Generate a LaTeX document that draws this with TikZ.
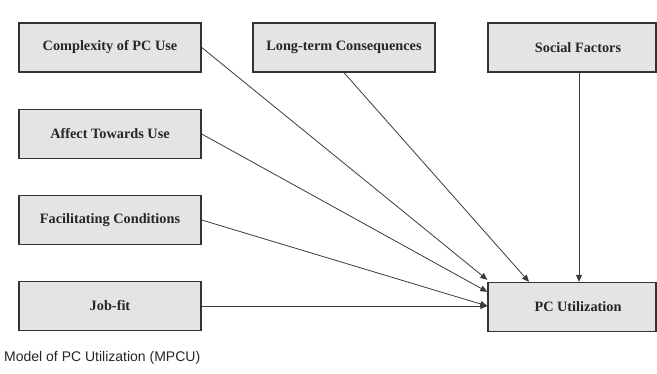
\documentclass[tikz,border=0pt]{standalone}
\usepackage{fontspec}
\setmainfont{Liberation Serif}
\newfontfamily\capfont{Liberation Sans}
\usetikzlibrary{arrows.meta}

\definecolor{boxfill}{HTML}{E4E4E4}
\definecolor{boxline}{HTML}{333333}
\definecolor{arrowline}{HTML}{3A3A3A}

\begin{document}
\begin{tikzpicture}[x=1pt,y=-1pt,
  factor/.style={draw=boxline, line width=1.4pt, fill=boxfill,
    minimum width=182pt, minimum height=49pt, inner sep=0pt,
    font=\bfseries\fontsize{14.3}{16}\selectfont, text=black!85},
  wide/.style={factor, minimum width=168pt},
  link/.style={draw=arrowline, line width=0.8pt,
    -{Triangle[length=7pt,width=6pt]}}]
  \useasboundingbox (0,0) rectangle (657,374);

  % predictor boxes
  \node[factor] (cpx) at (110,47.5) {Complexity of PC Use};
  \node[factor] (ltc) at (344,47.5) {Long-term Consequences};
  \node[wide]   (soc) at (572,47.5) {\hspace{12pt}Social Factors};
  \node[factor] (aff) at (110,134)  {Affect Towards Use};
  \node[factor] (fac) at (110,220)  {Facilitating Conditions};
  \node[factor] (job) at (110,306)  {Job-fit};

  % outcome box
  \node[wide]   (pcu) at (572,307) {\hspace{12pt}PC Utilization};
  \coordinate (jobin) at (pcu.west |- job.east);

  % paths into the outcome
  \draw[link] (cpx.east) -- ([yshift=2pt]pcu.north west);
  \draw[link] (ltc.south) -- ([xshift=-43pt]pcu.north);
  \draw[link] ([xshift=7pt]soc.south) -- ([xshift=7pt]pcu.north);
  \draw[link] (aff.east) -- ([yshift=-10pt]pcu.north west);
  \draw[link] (fac.east) -- (jobin);
  \draw[link] (job.east) -- (jobin);

  % caption
  \node[anchor=west, inner sep=0pt, font=\capfont\fontsize{14}{16}\selectfont, text=black!85]
    (cap) at (4,358) {Model of PC Utilization (MPCU)};
\end{tikzpicture}
\end{document}
